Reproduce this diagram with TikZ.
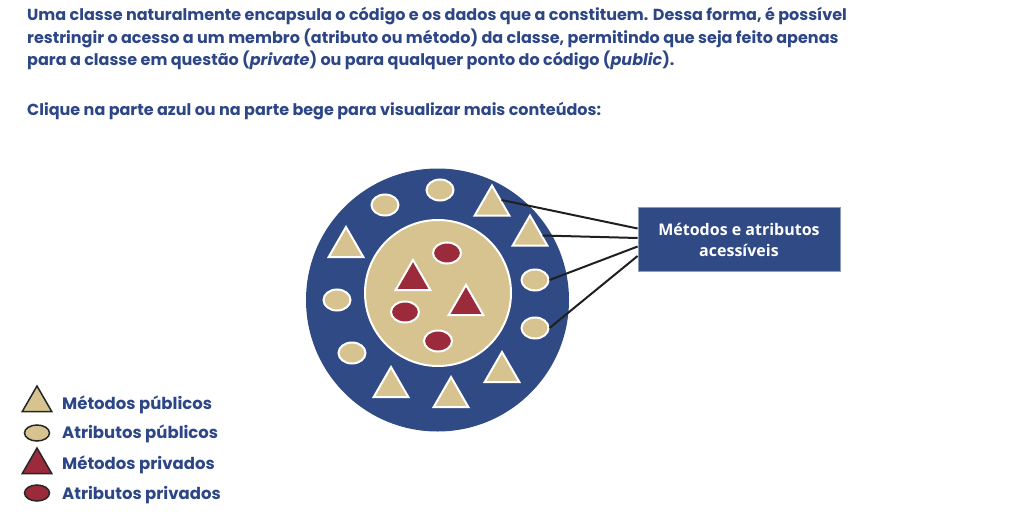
\documentclass[tikz,border=0pt]{standalone}
\usepackage{fontspec}
\setmainfont{Poppins}
\newfontfamily\boxfont{Open Sans}
\usetikzlibrary{shapes.geometric, calc}

\definecolor{navy}{HTML}{2F4A85}
\definecolor{beige}{HTML}{D6C38F}
\definecolor{wine}{HTML}{9B2A3B}
\definecolor{inktext}{HTML}{2D4686}

\begin{document}
\begin{tikzpicture}[
    x=1pt, y=-1pt,
    para/.style={anchor=base west, inner sep=0pt, text=inktext,
                 font=\fontsize{16}{22}\selectfont\bfseries},
    keytxt/.style={anchor=west, inner sep=0pt, text=inktext,
                   font=\fontsize{16.5}{20}\selectfont\bfseries},
    tri/.style={regular polygon, regular polygon sides=3, inner sep=0pt,
                minimum size=40pt, draw=white, line width=2pt},
    att/.style={ellipse, inner sep=0pt, minimum width=27pt,
                minimum height=21pt, draw=white, line width=2pt},
    pubtri/.style={tri, fill=beige},      % metodo publico
    pubatt/.style={att, fill=beige},      % atributo publico
    privtri/.style={tri, fill=wine},      % metodo privado
    privatt/.style={att, fill=wine},      % atributo privado
    keytri/.style={tri, minimum size=34pt, draw=black!85, line width=1.5pt},
    keyatt/.style={att, minimum width=25pt, minimum height=16pt,
                   draw=black!85, line width=1.5pt},
    link/.style={draw=black!88, line width=2pt},
    callout/.style={fill=navy, draw=navy!55!white, line width=0.8pt,
                    minimum width=202pt, minimum height=64pt, align=center,
                    text=white, font=\boxfont\bfseries\fontsize{16}{21}\selectfont},
]
\useasboundingbox (0,0) rectangle (1020,519);

% ============================ texto ======================================
\node[para] (para1) at (27,21)
  {Uma classe naturalmente encapsula o código e os dados que a constituem. Dessa forma, é possível};
\node[para] (para2) at (27,43.5)
  {restringir o acesso a um membro (atributo ou método) da classe, permitindo que seja feito apenas};
\node[para] (para3) at (27,66)
  {para a classe em questão (\textit{private}) ou para qualquer ponto do código (\textit{public}).};
\node[para] (clique) at (27,115)
  {Clique na parte azul ou na parte bege para visualizar mais conteúdos:};

% ============================ classe =====================================
\node[circle, fill=navy, minimum size=263pt, inner sep=0pt] (outer) at (437.5,300) {};
\node[circle, fill=beige, draw=white, line width=2pt, minimum size=146pt,
      inner sep=0pt] (inner) at (438,293) {};

% ============================ caixa + ligacoes ===========================
\node[callout] (box) at (739,239.5) {Métodos e atributos\\acessíveis};

% membros publicos (parte azul)
\node[pubtri] (t1) at (492,205.5) {};
\node[pubtri] (t2) at (530,235.5) {};
\node[pubtri] (t3) at (502,372) {};
\node[pubtri] (t4) at (451,397) {};
\node[pubtri] (t5) at (391,387) {};
\node[pubtri] (t6) at (346,247) {};
\node[pubatt] (a1) at (385,205) {};
\node[pubatt] (a2) at (440,190) {};
\node[pubatt] (a3) at (535,280) {};
\node[pubatt] (a4) at (535,328) {};
\node[pubatt] (a5) at (352,353) {};
\node[pubatt] (a6) at (337,300) {};

\draw[link] (t1.side 3) -- ($(box.west)+(0,-11)$);
\draw[link] (t2.east) -- ($(box.west)+(0,-1.5)$);
\draw[link] (a3.east) -- ($(box.west)+(0,7)$);
\draw[link] (a4.east) -- ($(box.west)+(0,16.5)$);

% membros privados (parte bege)
\node[privtri] (p1) at (413,280) {};
\node[privtri] (p2) at (466,305) {};
\node[privatt, minimum width=28pt] (q1) at (447,253) {};
\node[privatt, minimum width=28pt] (q2) at (405,312) {};
\node[privatt, minimum width=28pt] (q3) at (438,341) {};

% ============================ legenda ====================================
\node[keytri, fill=beige] (k1) at (37,403) {};
\node[keytxt] at (62,405) {Métodos públicos};
\node[keyatt, fill=beige] (k2) at (37,433) {};
\node[keytxt] at (62,434) {Atributos públicos};
\node[keytri, fill=wine] (k3) at (37,465) {};
\node[keytxt] at (62,465) {Métodos privados};
\node[keyatt, fill=wine] (k4) at (37,493) {};
\node[keytxt] at (62,495) {Atributos privados};

\end{tikzpicture}
\end{document}
